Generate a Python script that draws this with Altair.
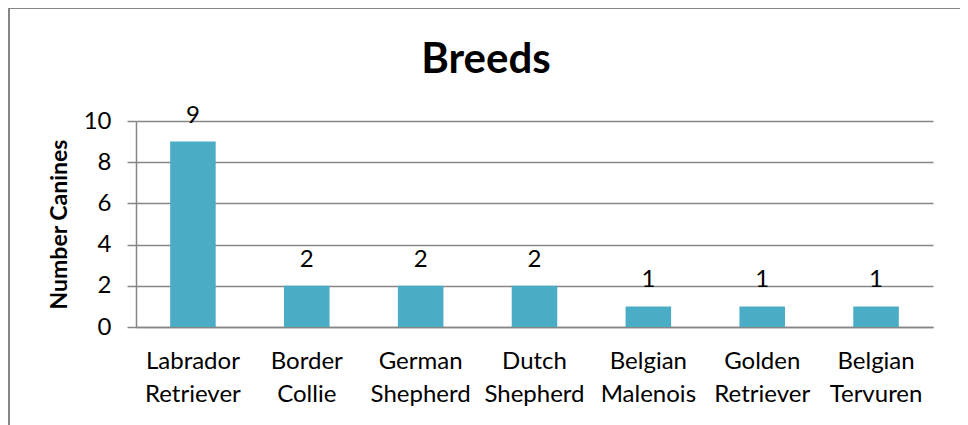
import altair as alt
import pandas as pd

breeds = ["Labrador Retriever", "Border Collie", "German Shepherd", "Dutch Shepherd",
          "Belgian Malenois", "Golden Retriever", "Belgian Tervuren"]
counts = [9, 2, 2, 2, 1, 1, 1]
chart_title = "Breeds"

df = pd.DataFrame({"breed": breeds, "count": counts})

FONT = "Lato"
GRID = "#868686"
BAR = "#4BACC6"

x = alt.X("breed:N", sort=breeds, title=None,
          scale=alt.Scale(paddingInner=0.6, paddingOuter=0.3),
          axis=alt.Axis(labelAngle=0, ticks=False, domainColor=GRID, domainWidth=1.5,
                        labelFont=FONT, labelFontSize=24, labelColor="#000000",
                        labelExpr="split(datum.label, ' ')", labelLineHeight=33,
                        labelPadding=22, labelBaseline="top"))
y = alt.Y("count:Q", title="Number Canines",
          scale=alt.Scale(domain=[0, 10]),
          axis=alt.Axis(values=[0, 2, 4, 6, 8, 10], grid=True, gridColor=GRID, gridWidth=1.5,
                        domainColor=GRID, domainWidth=1.5, tickColor=GRID, tickWidth=1.5,
                        tickSize=9, labelPadding=16, labelFont=FONT, labelFontSize=24,
                        labelColor="#000000", titleFont=FONT, titleFontSize=23,
                        titleFontWeight="bold", titleColor="#000000", titlePadding=12))

bars = alt.Chart(df).mark_bar(color=BAR).encode(x=x, y=y)
labels = alt.Chart(df).mark_text(font=FONT, fontSize=24, color="#000000",
                                 baseline="alphabetic", dy=-19).encode(
    x=alt.X("breed:N", sort=breeds), y="count:Q", text="count:Q")

single = alt.Data(values=[{"t": chart_title}])
border = alt.Chart(single).mark_rect(
    fill=None, stroke=GRID, strokeWidth=2).encode(
    x=alt.value(-127), x2=alt.value(826), y=alt.value(-113), y2=alt.value(330))
title = alt.Chart(single).mark_text(
    font=FONT, fontSize=42, fontWeight="bold", color="#000000",
    baseline="alphabetic", align="center").encode(
    x=alt.value(350), y=alt.value(-48), text="t:N")

chart = alt.layer(bars, labels, border, title).properties(
    width=797, height=206,
    autosize=alt.AutoSizeParams(type="none"),
    padding={"left": 128, "top": 113, "right": 27, "bottom": 98},
).configure_view(stroke=None).configure_axisX(grid=False)

chart.save("out.html", embed_options={"renderer": "svg", "actions": False})
